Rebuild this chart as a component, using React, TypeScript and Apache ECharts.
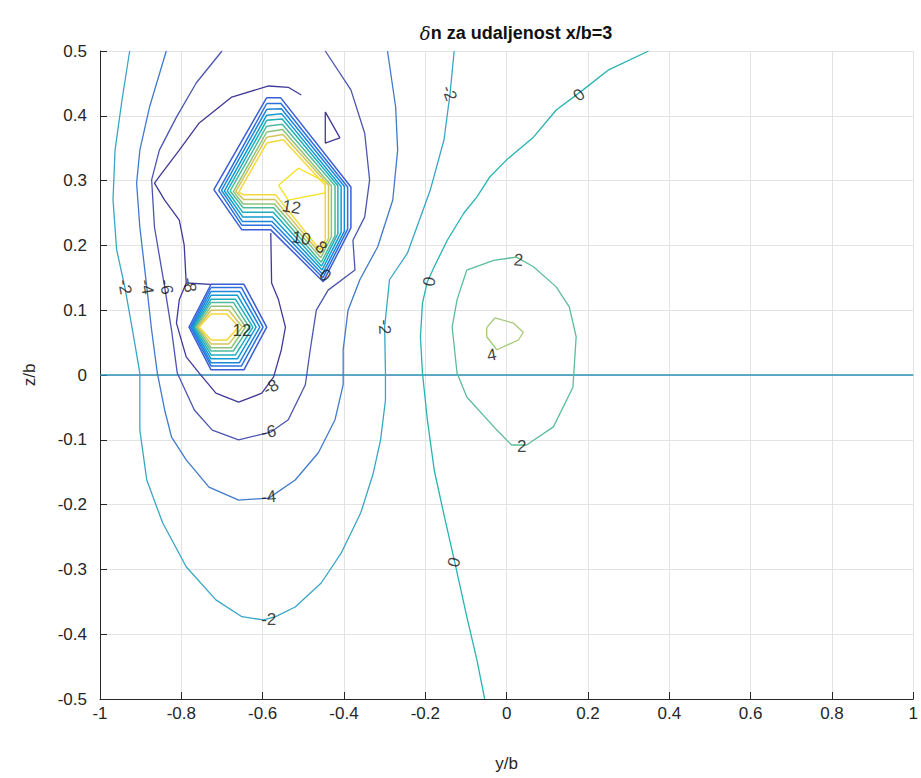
import { useEffect, useRef } from 'react';
import * as echarts from 'echarts';

// ---- contour lines, [y/b, z/b] ----
const levelM2: number[][] = [
  [-0.927, 0.5], [-0.946, 0.424], [-0.963, 0.347], [-0.968, 0.27], [-0.959, 0.193], [-0.939, 0.136],
  [-0.92, 0.069], [-0.902, 0.003], [-0.902, -0.085], [-0.885, -0.162], [-0.846, -0.228], [-0.788, -0.296],
  [-0.715, -0.347], [-0.651, -0.373], [-0.598, -0.378], [-0.568, -0.373], [-0.52, -0.358], [-0.456, -0.321],
  [-0.407, -0.275], [-0.359, -0.213], [-0.329, -0.154], [-0.31, -0.1], [-0.298, -0.039], [-0.298, 0.003],
  [-0.3, 0.074], [-0.288, 0.147], [-0.244, 0.188], [-0.188, 0.285], [-0.154, 0.363], [-0.139, 0.435], [-0.129, 0.5],
];
const levelM4: number[][] = [
  [-0.837, 0.5], [-0.878, 0.414], [-0.902, 0.347], [-0.91, 0.296], [-0.902, 0.228], [-0.885, 0.136],
  [-0.873, 0.069], [-0.859, 0.003], [-0.841, -0.054], [-0.824, -0.096], [-0.788, -0.131], [-0.732, -0.173],
  [-0.659, -0.193], [-0.585, -0.19], [-0.52, -0.162], [-0.463, -0.12], [-0.422, -0.069], [-0.402, -0.015],
  [-0.402, 0.039], [-0.39, 0.1], [-0.361, 0.147], [-0.317, 0.198], [-0.28, 0.27], [-0.268, 0.347],
  [-0.273, 0.414], [-0.293, 0.5],
];
const levelM6: number[][] = [
  [-0.7, 0.5], [-0.763, 0.451], [-0.812, 0.398], [-0.854, 0.347], [-0.873, 0.301], [-0.866, 0.228],
  [-0.841, 0.136], [-0.824, 0.069], [-0.81, 0.003], [-0.768, -0.054], [-0.724, -0.085], [-0.659, -0.1],
  [-0.58, -0.088], [-0.537, -0.069], [-0.495, -0.015], [-0.483, 0.039], [-0.468, 0.1], [-0.439, 0.131],
  [-0.373, 0.162], [-0.378, 0.208], [-0.349, 0.244], [-0.337, 0.301], [-0.349, 0.373], [-0.383, 0.44], [-0.446, 0.5],
];
const levelM8: number[][] = [
  [-0.505, 0.432], [-0.537, 0.444], [-0.585, 0.446], [-0.676, 0.429], [-0.756, 0.389], [-0.805, 0.347],
  [-0.846, 0.313], [-0.866, 0.296], [-0.841, 0.27], [-0.805, 0.239], [-0.793, 0.201], [-0.788, 0.142],
  [-0.805, 0.116], [-0.812, 0.08], [-0.788, 0.028], [-0.756, 0.003], [-0.715, -0.028], [-0.659, -0.042],
  [-0.602, -0.028], [-0.573, -0.003], [-0.554, 0.039], [-0.544, 0.074], [-0.561, 0.116], [-0.578, 0.142], [-0.58, 0.219],
];
const levelM8Link: number[][] = [[-0.788, 0.142], [-0.727, 0.14]];
const levelM8Triangle: number[][] = [
  [-0.446, 0.406], [-0.41, 0.366], [-0.446, 0.358], [-0.446, 0.406],
];
const level0: number[][] = [
  [0.349, 0.5], [0.251, 0.471], [0.188, 0.44], [0.122, 0.409], [0.066, 0.367], [0.0, 0.332],
  [-0.041, 0.306], [-0.073, 0.275], [-0.105, 0.25], [-0.146, 0.208], [-0.178, 0.167], [-0.195, 0.144],
  [-0.207, 0.111], [-0.212, 0.059], [-0.207, 0.003], [-0.195, -0.069], [-0.178, -0.147], [-0.154, -0.216],
  [-0.129, -0.285], [-0.098, -0.373], [-0.073, -0.44], [-0.054, -0.5],
];
const level2: number[][] = [
  [-0.098, 0.162], [-0.032, 0.177], [0.024, 0.182], [0.066, 0.167], [0.122, 0.136], [0.154, 0.105],
  [0.171, 0.059], [0.163, -0.019], [0.115, -0.08], [0.049, -0.108], [0.012, -0.108], [-0.024, -0.085],
  [-0.098, -0.034], [-0.122, 0.003], [-0.134, 0.074], [-0.122, 0.116], [-0.098, 0.162],
];
const level4: number[][] = [
  [-0.049, 0.073], [-0.029, 0.088], [0.017, 0.08], [0.041, 0.066], [0.029, 0.054], [-0.024, 0.039],
  [-0.049, 0.059], [-0.049, 0.073],
];
const zeroLine: number[][] = [[-1, 0], [1, 0]];

// nested rings of the upper steep peak, outer -> inner
const upperRings: number[][][] = [
  [[-0.59, 0.428], [-0.556, 0.428], [-0.383, 0.29], [-0.383, 0.227], [-0.451, 0.144], [-0.58, 0.224], [-0.651, 0.224], [-0.72, 0.286], [-0.59, 0.428]],
  [[-0.59, 0.419], [-0.555, 0.419], [-0.391, 0.29], [-0.391, 0.225], [-0.452, 0.15], [-0.579, 0.231], [-0.651, 0.231], [-0.708, 0.285], [-0.59, 0.419]],
  [[-0.59, 0.41], [-0.554, 0.411], [-0.399, 0.291], [-0.399, 0.222], [-0.453, 0.156], [-0.577, 0.237], [-0.65, 0.237], [-0.701, 0.285], [-0.59, 0.41]],
  [[-0.59, 0.401], [-0.553, 0.403], [-0.407, 0.291], [-0.407, 0.22], [-0.454, 0.162], [-0.576, 0.244], [-0.649, 0.244], [-0.694, 0.284], [-0.59, 0.401]],
  [[-0.59, 0.393], [-0.552, 0.395], [-0.415, 0.292], [-0.415, 0.218], [-0.455, 0.168], [-0.574, 0.251], [-0.649, 0.251], [-0.687, 0.284], [-0.59, 0.393]],
  [[-0.59, 0.384], [-0.552, 0.387], [-0.422, 0.292], [-0.422, 0.215], [-0.456, 0.174], [-0.573, 0.258], [-0.648, 0.258], [-0.68, 0.284], [-0.59, 0.384]],
  [[-0.59, 0.375], [-0.551, 0.379], [-0.431, 0.292], [-0.431, 0.213], [-0.457, 0.181], [-0.571, 0.264], [-0.648, 0.264], [-0.672, 0.283], [-0.59, 0.375]],
  [[-0.59, 0.367], [-0.55, 0.371], [-0.438, 0.293], [-0.438, 0.211], [-0.458, 0.187], [-0.57, 0.271], [-0.647, 0.271], [-0.666, 0.283], [-0.59, 0.367]],
  [[-0.59, 0.358], [-0.549, 0.363], [-0.446, 0.293], [-0.446, 0.208], [-0.459, 0.193], [-0.568, 0.278], [-0.646, 0.278], [-0.659, 0.282], [-0.59, 0.358]],
];
const upperCore: number[][] = [
  [-0.561, 0.293], [-0.512, 0.319], [-0.446, 0.298], [-0.446, 0.281], [-0.537, 0.27], [-0.561, 0.293],
];
// nested rings of the lower steep peak, outer -> inner
const lowerRings: number[][][] = [
  [[-0.727, 0.14], [-0.646, 0.14], [-0.59, 0.074], [-0.646, 0.008], [-0.727, 0.008], [-0.781, 0.074], [-0.727, 0.14]],
  [[-0.727, 0.135], [-0.652, 0.135], [-0.599, 0.074], [-0.652, 0.014], [-0.727, 0.014], [-0.777, 0.074], [-0.727, 0.135]],
  [[-0.727, 0.129], [-0.657, 0.129], [-0.607, 0.074], [-0.657, 0.019], [-0.727, 0.019], [-0.774, 0.074], [-0.727, 0.129]],
  [[-0.727, 0.123], [-0.662, 0.123], [-0.616, 0.074], [-0.662, 0.025], [-0.727, 0.025], [-0.771, 0.074], [-0.727, 0.123]],
  [[-0.727, 0.117], [-0.667, 0.117], [-0.624, 0.074], [-0.667, 0.031], [-0.727, 0.031], [-0.768, 0.074], [-0.727, 0.117]],
  [[-0.727, 0.112], [-0.672, 0.112], [-0.633, 0.074], [-0.672, 0.037], [-0.727, 0.037], [-0.765, 0.074], [-0.727, 0.112]],
  [[-0.727, 0.106], [-0.677, 0.106], [-0.642, 0.074], [-0.677, 0.042], [-0.727, 0.042], [-0.762, 0.074], [-0.727, 0.106]],
  [[-0.727, 0.1], [-0.683, 0.1], [-0.65, 0.074], [-0.683, 0.048], [-0.727, 0.048], [-0.759, 0.074], [-0.727, 0.1]],
  [[-0.727, 0.094], [-0.688, 0.094], [-0.659, 0.074], [-0.688, 0.054], [-0.727, 0.054], [-0.756, 0.074], [-0.727, 0.094]],
];

// contour labels
const labelTexts = ['-2', '0', '12', '10', '8', '0', '-2', '-4', '-6', '-8', '12', '-2', '0', '2', '4', '2', '-8', '-6', '-4', '-2', '0'];
const labelY = [-0.141, 0.178, -0.529, -0.505, -0.456, -0.446, -0.939, -0.885, -0.837, -0.78, -0.651, -0.3, -0.19, 0.029, -0.037, 0.037, -0.58, -0.585, -0.585, -0.585, -0.129];
const labelZ = [0.435, 0.432, 0.259, 0.211, 0.197, 0.154, 0.136, 0.136, 0.136, 0.139, 0.069, 0.074, 0.144, 0.177, 0.031, -0.111, -0.019, -0.088, -0.188, -0.378, -0.289];
const labelRot = [-70, 40, -10, -10, -40, -40, -80, -80, -80, -80, 0, -88, 80, -5, 10, 0, 30, 10, 5, 0, 75];

const ringColors = ['#3b5ed6', '#2c70e0', '#1c86dc', '#109bd3', '#1eaebc', '#4cba9d', '#8ec27c', '#d0c45a', '#f4d83a'];

const FONT = '"Liberation Sans", Arial, Helvetica, sans-serif';

export default function App() {
  const ref = useRef<HTMLDivElement>(null);
  useEffect(() => {
    if (!ref.current) return;
    const chart = echarts.init(ref.current, undefined, { renderer: 'svg' });
    const mk = (data: number[][], color: string, width = 1.3, z = 3) => ({
      type: 'line', data, showSymbol: false, silent: true, z,
      lineStyle: { color, width }, itemStyle: { color },
    });
    const series: any[] = [
      mk(zeroLine, '#2d8fb6', 1.6, 2),
      mk(levelM2, '#38a7c6'),
      mk(levelM4, '#3f7acb'),
      mk(levelM6, '#4b55b0'),
      mk(levelM8, '#40399a'),
      mk(levelM8Link, '#40399a'),
      mk(levelM8Triangle, '#40399a'),
      mk(level0, '#27b3b3'),
      mk(level2, '#5cbd9b'),
      mk(level4, '#a6ca78'),
    ];
    upperRings.forEach((r, i) => series.push(mk(r, ringColors[i], 1.5, 4)));
    series.push(mk(upperCore, '#f2e21c', 1.3, 4));
    lowerRings.forEach((r, i) => series.push(mk(r, ringColors[i], 1.5, 4)));
    series.push({
      type: 'scatter', symbolSize: 0, silent: true, z: 10,
      data: labelTexts.map((t, i) => ({
        name: t, value: [labelY[i], labelZ[i]],
        label: { rotate: labelRot[i] },
      })),
      label: {
        show: true, position: 'inside', formatter: '{b}', color: '#111', fontSize: 17, fontFamily: FONT,
      },
    });
    const fmt = (v: number) => String(Math.round(v * 10) / 10);
    chart.setOption({
      animation: false,
      backgroundColor: '#ffffff',
      title: {
        text: '{d|δ}n za udaljenost x/b=3',
        left: 511, top: 19, textAlign: 'center',
        textStyle: {
          fontSize: 18, fontWeight: 'bold', color: '#111', fontFamily: FONT,
          rich: { d: { fontSize: 18, fontStyle: 'italic', fontWeight: 'normal', color: '#111', fontFamily: 'DejaVu Serif, serif' } },
        },
      },
      grid: { left: 100, right: 1, top: 51, bottom: 79, containLabel: false },
      xAxis: {
        type: 'value', min: -1, max: 1, interval: 0.2,
        name: 'y/b', nameLocation: 'middle', nameGap: 56,
        nameTextStyle: { fontSize: 17, color: '#262626', fontFamily: FONT },
        axisLine: { show: true, onZero: false, lineStyle: { color: '#262626', width: 1 } },
        axisTick: { show: true, inside: true, length: 7, lineStyle: { color: '#262626' } },
        axisLabel: { fontSize: 17, color: '#262626', fontFamily: FONT, margin: 6, formatter: fmt },
        splitLine: { show: true, lineStyle: { color: '#e3e3e3', width: 1 } },
      },
      yAxis: {
        type: 'value', min: -0.5, max: 0.5, interval: 0.1,
        name: 'z/b', nameLocation: 'middle', nameGap: 62, nameRotate: 90,
        nameTextStyle: { fontSize: 17, color: '#262626', fontFamily: FONT },
        axisLine: { show: true, onZero: false, lineStyle: { color: '#262626', width: 1 } },
        axisTick: { show: true, inside: true, length: 7, lineStyle: { color: '#262626' } },
        axisLabel: { fontSize: 17, color: '#262626', fontFamily: FONT, margin: 13, formatter: fmt },
        splitLine: { show: true, lineStyle: { color: '#e3e3e3', width: 1 } },
      },
      series,
    });
    return () => chart.dispose();
  }, []);
  return <div ref={ref} style={{ position: 'fixed', left: 0, top: 0, width: 921, height: 778, background: '#fff' }} />;
}
